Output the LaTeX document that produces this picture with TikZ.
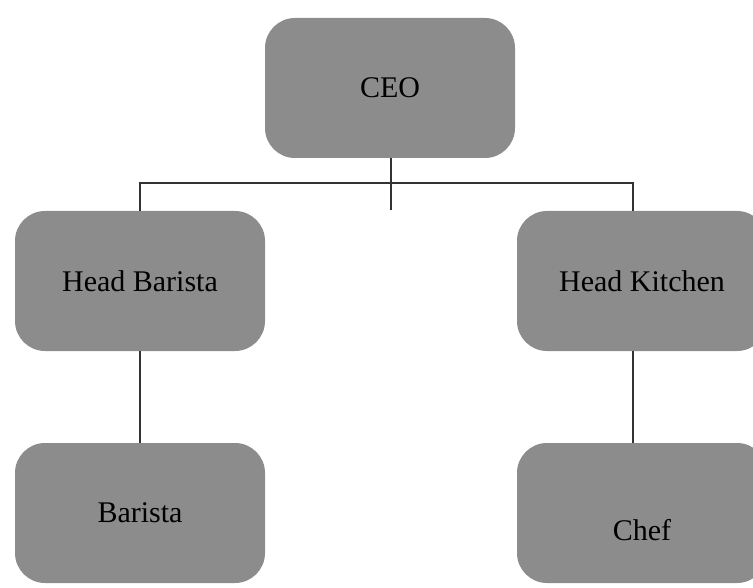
\documentclass[tikz,border=0pt]{standalone}
\usepackage{fontspec}
\setmainfont{Liberation Serif}
\usepackage{tikz}
\usetikzlibrary{positioning}

\definecolor{boxgray}{RGB}{140,140,140}
\definecolor{linegray}{RGB}{50,50,50}

\begin{document}
\begin{tikzpicture}[x=1pt, y=-1pt,
		font=\fontsize{30}{36}\selectfont,
		rolebox/.style={fill=boxgray, rounded corners=30pt, minimum width=250pt, minimum height=140pt, inner sep=0pt},
		link/.style={draw=linegray, line width=1.6pt}]
	\useasboundingbox (0,0) rectangle (753,588);
	% top level
	\node[rolebox] (ceo) at (390,88) {CEO};
	% heads
	\node[rolebox] (headbarista) at (140,281) {Head Barista};
	\node[rolebox] (headkitchen) at (642,281) {Head Kitchen};
	% staff
	\node[rolebox] (barista) at (140,513) {Barista};
	\node[rolebox, label={[yshift=-17pt]center:Chef}] (chef) at (642,513) {};
	% connectors
	\coordinate (bar) at (391,183);
	\coordinate (stem) at (391,210);
	\draw[link] ([xshift=1pt]ceo.south) -- (stem);
	\draw[link] (headbarista.north) |- (bar) -| ([xshift=-9pt]headkitchen.north);
	\draw[link] (headbarista.south) -- (barista.north);
	\draw[link] ([xshift=-9pt]headkitchen.south) -- ([xshift=-9pt]chef.north);
\end{tikzpicture}
\end{document}
